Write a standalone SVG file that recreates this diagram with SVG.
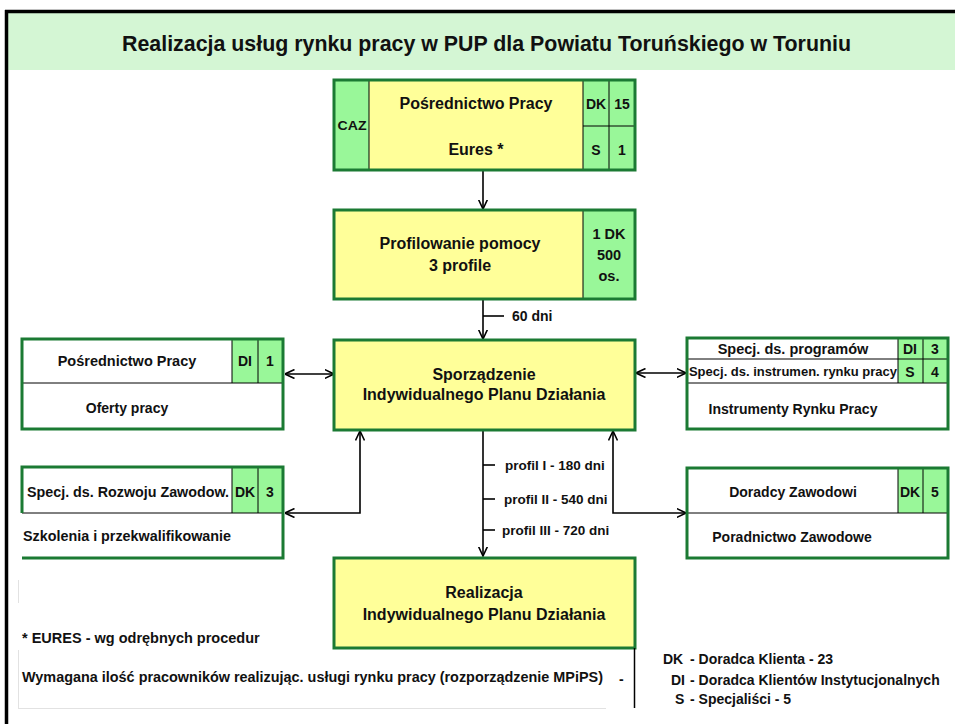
<svg xmlns="http://www.w3.org/2000/svg" width="955" height="724" viewBox="0 0 955 724">
<defs>
<style>
text{font-family:"Liberation Sans",Arial,sans-serif;font-weight:bold;fill:#111}
.t16{font-size:16px}
.t15{font-size:15px}
.t14{font-size:14px}
.t145{font-size:14.5px}
.t135{font-size:13.5px}
.t13{font-size:13px}
.m{text-anchor:middle}
.box{stroke:#1b7a33;stroke-width:3}
.yel{fill:#ffff99}
.wht{fill:#ffffff}
.cell{fill:#99f799}
.div{stroke:#000;stroke-width:1;fill:none}
.con{stroke:#000;stroke-width:1.6;fill:none}
.gray{stroke:#e2e2e2;stroke-width:1;fill:none}
</style>
<marker id="ah" viewBox="0 0 10 10" refX="9.5" refY="5" markerWidth="10" markerHeight="10" markerUnits="userSpaceOnUse" orient="auto-start-reverse">
<path d="M0,0.5 L9.5,5 L0,9.5" fill="none" stroke="#000" stroke-width="1.6"/>
</marker>
</defs>
<rect x="0" y="0" width="955" height="724" fill="#fff"/>
<g id="frame">
<rect x="8" y="13" width="947" height="57" fill="#d4f6d4"/>
<line x1="5" y1="11.5" x2="955" y2="11.5" stroke="#000" stroke-width="3.5"/>
<line x1="6.5" y1="10" x2="6.5" y2="724" stroke="#000" stroke-width="3.5"/>
<text x="122" y="51" style="font-size:22px" textLength="729" lengthAdjust="spacingAndGlyphs">Realizacja usług rynku pracy w PUP dla Powiatu Toruńskiego w Toruniu</text>
</g>
<g id="connectors">
<line x1="483" y1="170" x2="483" y2="209" class="con" marker-end="url(#ah)"/>
<line x1="483" y1="299" x2="483" y2="339" class="con" marker-end="url(#ah)"/>
<line x1="483" y1="316" x2="504" y2="316" class="con"/>
<line x1="285" y1="374" x2="334" y2="374" class="con" marker-start="url(#ah)" marker-end="url(#ah)"/>
<line x1="636" y1="373" x2="686" y2="373" class="con" marker-start="url(#ah)" marker-end="url(#ah)"/>
<polyline points="285,513 360,513 360,431" class="con" marker-start="url(#ah)" marker-end="url(#ah)"/>
<polyline points="613,431 613,513 686,513" class="con" marker-start="url(#ah)" marker-end="url(#ah)"/>
<line x1="483" y1="430" x2="483" y2="556" class="con" marker-end="url(#ah)"/>
<line x1="483" y1="465" x2="495" y2="465" class="con"/>
<line x1="483" y1="499" x2="495" y2="499" class="con"/>
<line x1="483" y1="530" x2="495" y2="530" class="con"/>
<text x="512" y="321" class="t14">60 dni</text>
<text x="505" y="470" class="t135">profil I - 180 dni</text>
<text x="504" y="504" class="t135">profil II - 540 dni</text>
<text x="502" y="535" class="t135">profil III - 720 dni</text>
</g>
<g id="node-posrednictwo-caz">
<rect x="334" y="80" width="301" height="90" class="yel"/>
<rect x="334" y="80" width="35" height="90" class="cell"/>
<rect x="583" y="80" width="52" height="90" class="cell"/>
<line x1="369" y1="80" x2="369" y2="170" class="div"/>
<line x1="583" y1="80" x2="583" y2="170" class="div"/>
<line x1="609" y1="80" x2="609" y2="170" class="div"/>
<line x1="583" y1="126" x2="635" y2="126" class="div"/>
<rect x="334" y="80" width="301" height="90" fill="none" class="box"/>
<text x="352" y="130" class="t13 m" textLength="29" lengthAdjust="spacingAndGlyphs">CAZ</text>
<text x="476" y="109" class="t16 m">Pośrednictwo Pracy</text>
<text x="476" y="155" class="t16 m">Eures *</text>
<text x="596" y="109" class="t14 m">DK</text>
<text x="622" y="109" class="t14 m">15</text>
<text x="596" y="155" class="t14 m">S</text>
<text x="622" y="155" class="t14 m">1</text>
</g>
<g id="node-profilowanie">
<rect x="334" y="210" width="301" height="89" class="yel"/>
<rect x="583" y="210" width="52" height="89" class="cell"/>
<line x1="583" y1="210" x2="583" y2="299" class="div"/>
<rect x="334" y="210" width="301" height="89" fill="none" class="box"/>
<text x="460" y="249" class="t16 m">Profilowanie pomocy</text>
<text x="460" y="271" class="t16 m">3 profile</text>
<text x="609" y="239" class="t145 m">1 DK</text>
<text x="609" y="260" class="t145 m">500</text>
<text x="609" y="281" class="t145 m">os.</text>
</g>
<g id="node-sporzadzenie">
<rect x="334" y="340" width="301" height="90" class="yel box"/>
<text x="484" y="380" class="t16 m">Sporządzenie</text>
<text x="484" y="400" class="t16 m">Indywidualnego Planu Działania</text>
</g>
<g id="node-realizacja">
<rect x="334" y="558" width="301" height="90" class="yel box"/>
<text x="484" y="598" class="t16 m">Realizacja</text>
<text x="484" y="620" class="t16 m">Indywidualnego Planu Działania</text>
</g>
<g id="node-oferty">
<rect x="22" y="339" width="261" height="90" class="wht"/>
<rect x="232" y="339" width="51" height="44" class="cell"/>
<line x1="22" y1="383" x2="283" y2="383" class="div"/>
<line x1="232" y1="339" x2="232" y2="383" class="div"/>
<line x1="258" y1="339" x2="258" y2="383" class="div"/>
<rect x="22" y="339" width="261" height="90" fill="none" class="box"/>
<text x="127" y="366" class="t145 m">Pośrednictwo Pracy</text>
<text x="127" y="413" class="t14 m">Oferty pracy</text>
<text x="245" y="366" class="t14 m">DI</text>
<text x="270" y="366" class="t14 m">1</text>
</g>
<g id="node-instrumenty">
<rect x="687" y="338" width="261" height="91" class="wht"/>
<rect x="898" y="338" width="50" height="45" class="cell"/>
<line x1="687" y1="359" x2="948" y2="359" class="div"/>
<line x1="687" y1="383" x2="948" y2="383" class="div"/>
<line x1="898" y1="338" x2="898" y2="383" class="div"/>
<line x1="923" y1="338" x2="923" y2="383" class="div"/>
<rect x="687" y="338" width="261" height="91" fill="none" class="box"/>
<text x="793" y="354" class="t145 m">Specj. ds. programów</text>
<text x="793" y="376" class="t13 m">Specj. ds. instrumen. rynku pracy</text>
<text x="793" y="414" class="t14 m">Instrumenty Rynku Pracy</text>
<text x="910" y="354" class="t14 m">DI</text>
<text x="935" y="354" class="t14 m">3</text>
<text x="910" y="377" class="t14 m">S</text>
<text x="935" y="377" class="t14 m">4</text>
</g>
<g id="node-szkolenia">
<rect x="232" y="467" width="51" height="46" class="cell"/>
<line x1="22" y1="513" x2="283" y2="513" class="div"/>
<line x1="232" y1="467" x2="232" y2="513" class="div"/>
<line x1="258" y1="467" x2="258" y2="513" class="div"/>
<polyline points="22,513 22,467 283,467 283,558 22,558" fill="none" class="box"/>
<text x="27" y="497" class="t14" textLength="202" lengthAdjust="spacingAndGlyphs">Specj. ds. Rozwoju Zawodow.</text>
<text x="23" y="541" class="t14" textLength="208" lengthAdjust="spacingAndGlyphs">Szkolenia i przekwalifikowanie</text>
<text x="245" y="497" class="t14 m">DK</text>
<text x="270" y="497" class="t14 m">3</text>
</g>
<g id="node-poradnictwo">
<rect x="687" y="468" width="261" height="90" class="wht"/>
<rect x="898" y="468" width="50" height="45" class="cell"/>
<line x1="687" y1="513" x2="948" y2="513" class="div"/>
<line x1="898" y1="468" x2="898" y2="513" class="div"/>
<line x1="923" y1="468" x2="923" y2="513" class="div"/>
<rect x="687" y="468" width="261" height="90" fill="none" class="box"/>
<text x="793" y="497" class="t14 m">Doradcy Zawodowi</text>
<text x="792" y="542" class="t14 m">Poradnictwo Zawodowe</text>
<text x="910" y="497" class="t14 m">DK</text>
<text x="935" y="497" class="t14 m">5</text>
</g>
<g id="footer">
<line x1="18.5" y1="580" x2="18.5" y2="603" class="gray"/>
<line x1="18.5" y1="650" x2="18.5" y2="708" class="gray"/>
<line x1="18" y1="708.5" x2="606" y2="708.5" class="gray"/>
<line x1="634.5" y1="648" x2="634.5" y2="708" stroke="#000" stroke-width="1.5"/>
<text x="22" y="643" class="t145">* EURES - wg odrębnych procedur</text>
<text x="22" y="682" class="t145" textLength="581" lengthAdjust="spacingAndGlyphs">Wymagana ilość pracowników realizując. usługi rynku pracy (rozporządzenie MPiPS)</text>
<text x="619" y="684" class="t14">-</text>
<text x="663" y="664" class="t14">DK</text>
<text x="690" y="664" class="t14">- Doradca Klienta - 23</text>
<text x="671" y="685" class="t14">DI</text>
<text x="690" y="685" class="t14">- Doradca Klientów Instytucjonalnych</text>
<text x="675" y="704" class="t14">S</text>
<text x="690" y="704" class="t14">- Specjaliści - 5</text>
</g>
</svg>
